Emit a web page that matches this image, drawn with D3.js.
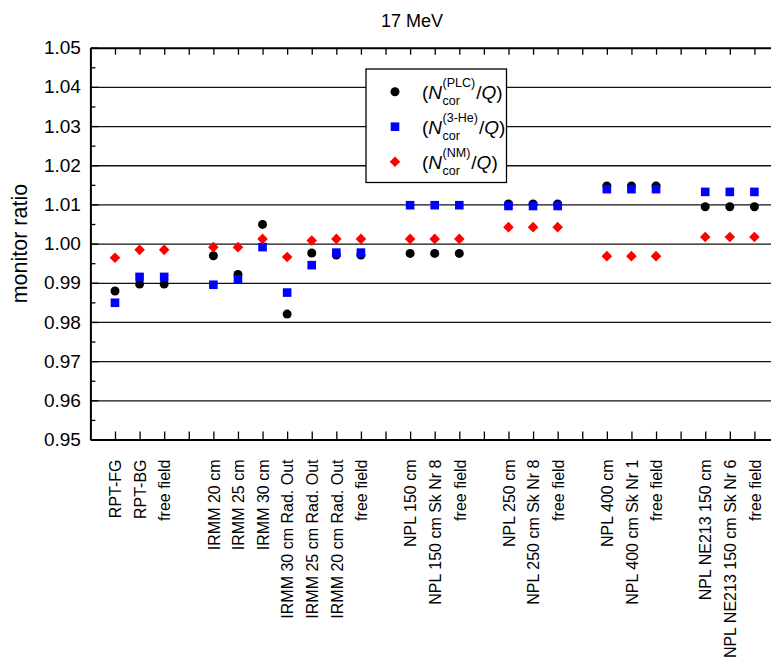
<!DOCTYPE html>
<html>
<head>
<meta charset="utf-8">
<script src="https://cdn.jsdelivr.net/npm/d3@7"></script>
<style>
  body { margin: 0; background: #fff; }
  svg { display: block; font-family: "Liberation Sans", Arial, sans-serif; }
</style>
</head>
<body>
<div id="chart"></div>
<script>
// categories along x (blank entries are the gaps between groups)
const categories = [
  "RPT-FG", "RPT-BG", "free field", "",
  "IRMM 20 cm", "IRMM 25 cm", "IRMM 30 cm", "IRMM 30 cm Rad. Out", "IRMM 25 cm Rad. Out", "IRMM 20 cm Rad. Out", "free field", "",
  "NPL 150 cm", "NPL 150 cm Sk Nr 8", "free field", "",
  "NPL 250 cm", "NPL 250 cm Sk Nr 8", "free field", "",
  "NPL 400 cm", "NPL 400 cm Sk Nr 1", "free field", "",
  "NPL NE213 150 cm", "NPL NE213 150 cm Sk Nr 6", "free field"
];

// monitor ratios
const plc = [0.9879, 0.9897, 0.9897, null, 0.9969, 0.9921, 1.0049, 0.9820, 0.9976, 0.9971, 0.9971, null,
  0.9975, 0.9975, 0.9975, null, 1.0101, 1.0101, 1.0101, null, 1.0147, 1.0147, 1.0147, null, 1.0094, 1.0094, 1.0094];
const he3 = [0.9849, 0.9915, 0.9915, null, 0.9895, 0.9909, 0.9991, 0.9875, 0.9945, 0.9977, 0.9977, null,
  1.0098, 1.0098, 1.0098, null, 1.0096, 1.0096, 1.0096, null, 1.0139, 1.0139, 1.0139, null, 1.0132, 1.0132, 1.0132];
const nm = [0.9964, 0.9984, 0.9984, null, 0.9991, 0.9991, 1.0012, 0.9966, 1.0008, 1.0012, 1.0012, null,
  1.0012, 1.0012, 1.0012, null, 1.0042, 1.0042, 1.0042, null, 0.9968, 0.9968, 0.9968, null, 1.0017, 1.0017, 1.0017];

const legendSups = ["(PLC)", "(3-He)", "(NM)"];
const yTicks = [0.95, 0.96, 0.97, 0.98, 0.99, 1.00, 1.01, 1.02, 1.03, 1.04, 1.05];

const W = 771, H = 661;
const pLeft = 90.4, pRight = 779, pTop = 47.7, pBottom = 439.5;

const svg = d3.select("#chart").append("svg")
  .attr("width", W)
  .attr("height", H);

const x = d3.scaleLinear().domain([0, categories.length + 1]).range([pLeft, pRight]);
const y = d3.scaleLinear().domain([0.95, 1.05]).range([pBottom, pTop]);

// horizontal grid lines
svg.append("g")
  .attr("transform", `translate(${pLeft},0)`)
  .call(d3.axisLeft(y).tickValues(yTicks.slice(1, -1)).tickSize(-(pRight - pLeft)).tickFormat(""))
  .call(g => g.select(".domain").remove())
  .call(g => g.selectAll("line").attr("stroke", "#111").attr("stroke-width", 1.3));

// minor y ticks
svg.append("g")
  .attr("transform", `translate(${pLeft},0)`)
  .call(d3.axisLeft(y).tickValues(yTicks.slice(0, -1).map(d => d + 0.005)).tickSize(-5).tickFormat(""))
  .call(g => g.select(".domain").remove())
  .call(g => g.selectAll("line").attr("stroke", "#000").attr("stroke-width", 1.3));

// left axis with labels
svg.append("g")
  .attr("transform", `translate(${pLeft},0)`)
  .call(d3.axisLeft(y).tickValues(yTicks).tickSize(-8).tickPadding(9.5).tickSizeOuter(0).tickFormat(d3.format(".2f")))
  .call(g => g.select(".domain").attr("stroke-width", 2))
  .call(g => g.selectAll("line").attr("stroke-width", 1.3))
  .call(g => g.selectAll("text").attr("font-size", 19).attr("fill", "#000")
    .attr("font-family", "'Liberation Sans', Arial, sans-serif"));

// top axis
svg.append("g")
  .attr("transform", `translate(0,${pTop})`)
  .call(d3.axisTop(x).tickValues(d3.range(1, categories.length + 2)).tickSize(-7).tickSizeOuter(0).tickFormat(""))
  .call(g => g.select(".domain").attr("stroke-width", 2))
  .call(g => g.selectAll("line").attr("stroke-width", 1.3));

// bottom axis with rotated category labels
svg.append("g")
  .attr("transform", `translate(0,${pBottom})`)
  .call(d3.axisBottom(x).tickValues(d3.range(1, categories.length + 2)).tickSize(-8).tickSizeOuter(0)
    .tickFormat(d => categories[d - 1] || ""))
  .call(g => g.select(".domain").attr("stroke-width", 2))
  .call(g => g.selectAll("line").attr("stroke-width", 1.3))
  .call(g => g.selectAll("text")
    .attr("font-size", 16).attr("fill", "#000")
    .attr("font-family", "'Liberation Sans', Arial, sans-serif")
    .attr("text-anchor", "end")
    .attr("transform", "rotate(-90)")
    .attr("x", -20).attr("y", 0).attr("dy", "0.36em"));

// series points
const pts = arr => arr.map((v, i) => ({ i: i + 1, v })).filter(d => d.v != null);

svg.append("g").selectAll("circle")
  .data(pts(plc))
  .join("circle")
  .attr("cx", d => x(d.i))
  .attr("cy", d => y(d.v))
  .attr("r", 4.5)
  .attr("fill", "#000");

svg.append("g").selectAll("rect")
  .data(pts(he3))
  .join("rect")
  .attr("x", d => x(d.i) - 4.3)
  .attr("y", d => y(d.v) - 4.3)
  .attr("width", 8.6)
  .attr("height", 8.6)
  .attr("fill", "#0000ff");

const diamond = d3.symbol().type(d3.symbolSquare).size(56);
svg.append("g").selectAll("path")
  .data(pts(nm))
  .join("path")
  .attr("d", diamond)
  .attr("transform", d => `translate(${x(d.i)},${y(d.v)}) rotate(45)`)
  .attr("fill", "#ff0000");

// legend
const lg = svg.append("g");
lg.append("rect")
  .attr("x", 366).attr("y", 69)
  .attr("width", 140.5).attr("height", 113.5)
  .attr("fill", "#fff").attr("stroke", "#000").attr("stroke-width", 1.3);

legendSups.forEach((sup, k) => {
  const ry = 91.7 + k * 35;
  if (k === 0) lg.append("circle").attr("cx", 395).attr("cy", ry).attr("r", 4.5).attr("fill", "#000");
  if (k === 1) lg.append("rect").attr("x", 395 - 4.3).attr("y", ry - 4.3).attr("width", 8.6).attr("height", 8.6).attr("fill", "#0000ff");
  if (k === 2) lg.append("path").attr("d", diamond).attr("transform", `translate(395,${ry}) rotate(45)`).attr("fill", "#ff0000");

  const t = lg.append("text").attr("x", 422).attr("y", ry + 7).attr("font-size", 19);
  t.append("tspan").text("(");
  t.append("tspan").attr("font-style", "italic").text("N");
  const nEnd = 422 + t.node().getComputedTextLength() + 0.5;
  const s1 = lg.append("text").attr("x", nEnd).attr("y", ry - 4.5).attr("font-size", 12.5).text(sup);
  const s2 = lg.append("text").attr("x", nEnd).attr("y", ry + 13.5).attr("font-size", 12.5).text("cor");
  const w = Math.max(s1.node().getComputedTextLength(), s2.node().getComputedTextLength());
  const t2 = lg.append("text").attr("x", nEnd + w + 1).attr("y", ry + 7).attr("font-size", 19);
  t2.append("tspan").text("/");
  t2.append("tspan").attr("font-style", "italic").text("Q");
  t2.append("tspan").text(")");
});

// title and y label
svg.append("text")
  .attr("x", 412).attr("y", 27)
  .attr("text-anchor", "middle")
  .attr("font-size", 18)
  .text("17 MeV");

svg.append("text")
  .attr("transform", `translate(27,${(pTop + pBottom) / 2}) rotate(-90)`)
  .attr("text-anchor", "middle")
  .attr("font-size", 21.5)
  .text("monitor ratio");
</script>
</body>
</html>
